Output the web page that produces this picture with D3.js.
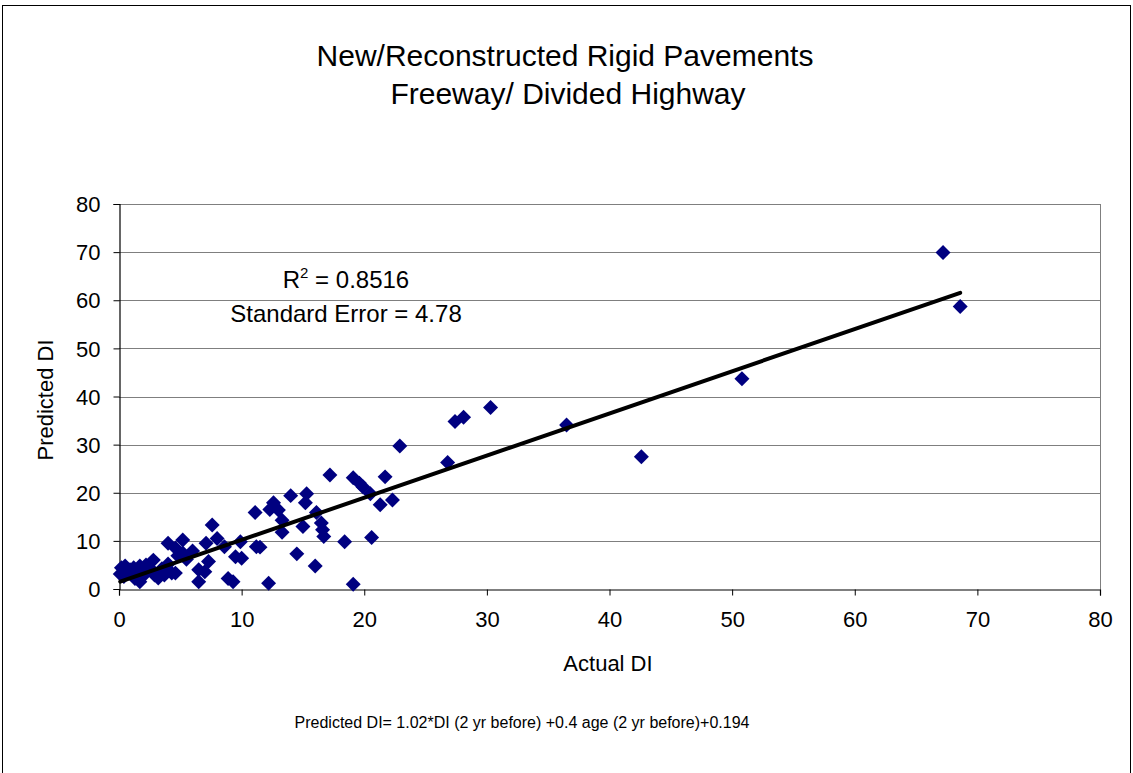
<!DOCTYPE html>
<html><head><meta charset="utf-8">
<script src="https://cdn.jsdelivr.net/npm/d3@7"></script>
<style>
html,body{margin:0;padding:0;background:#fff;}
text{font-family:"Liberation Sans",Arial,sans-serif;fill:#000;}
</style></head>
<body>
<svg id="chart" width="1133" height="773"></svg>
<script>
const actualDI = [0.1,0.2,0.4,0.5,0.7,0.9,1.0,1.2,1.3,1.5,1.7,1.7,2.0,2.0,2.2,2.5,2.8,2.9,3.2,3.5,3.7,4.0,4.0,4.3,4.6,4.6,4.8,5.2,5.2,5.5,6.0,6.5,6.5,7.0,7.1,7.3,7.6,8.0,8.6,8.9,9.3,9.5,9.9,10.0,11.1,11.2,11.5,12.2,12.3,12.6,13.0,13.3,13.3,14.0,14.5,15.0,15.2,15.3,16.0,16.1,16.5,16.6,16.7,17.2,18.4,19.1,19.1,19.6,19.9,20.5,20.6,21.3,21.7,22.3,22.9,26.8,27.4,28.1,30.3,36.5,42.6,50.8,67.2,68.6];
const predictedDI = [3.1,4.4,2.6,4.8,3.5,4.0,3.1,4.4,2.2,3.7,4.8,1.5,4.0,2.8,5.0,4.4,6.0,2.9,2.3,4.2,2.9,5.2,9.5,3.3,8.5,3.3,6.9,10.2,7.5,6.2,7.9,1.5,4.0,3.6,9.5,5.7,13.3,10.5,8.8,2.2,1.5,6.7,9.8,6.4,15.9,8.8,8.7,1.2,16.5,17.9,16.4,11.8,14.3,19.4,7.3,13.0,17.9,19.8,4.8,15.9,13.7,12.3,10.9,23.7,9.8,23.1,1.0,22.0,21.2,19.8,10.7,17.5,23.3,18.5,29.7,26.3,34.8,35.7,37.7,34.1,27.5,43.7,69.9,58.7];
const xTicks = [0,10,20,30,40,50,60,70,80];
const yTicks = [0,10,20,30,40,50,60,70,80];
const trendSlope = 0.876, trendIntercept = 1.45;
const titleLines = ["New/Reconstructed Rigid Pavements","Freeway/ Divided Highway"];
const xTitle = "Actual DI", yTitle = "Predicted DI";
const footer = "Predicted DI= 1.02*DI (2 yr before) +0.4 age (2 yr before)+0.194";
const statsLines = ["= 0.8516","Standard Error = 4.78"];

const svg = d3.select("#chart");
const L = 119, R = 1100, T = 204, B = 589;
const x = d3.scaleLinear().domain([0,80]).range([L,R]);
const y = d3.scaleLinear().domain([0,80]).range([B,T]);

// outer chart border
svg.append("rect").attr("x",2.5).attr("y",5.5).attr("width",1128).attr("height",800)
  .attr("fill","none").attr("stroke","#000").attr("stroke-width",1);

// gridlines
svg.append("g").selectAll("line").data(yTicks.filter(d=>d>0)).join("line")
  .attr("x1",L).attr("x2",R).attr("y1",d=>Math.round(y(d))+0.5).attr("y2",d=>Math.round(y(d))+0.5)
  .attr("stroke","#7f7f7f").attr("stroke-width",1);
// plot area right border
svg.append("line").attr("x1",R+0.5).attr("x2",R+0.5).attr("y1",T).attr("y2",B)
  .attr("stroke","#7f7f7f");

// axes
const xAxis = d3.axisBottom(x).tickValues(xTicks).tickSize(6).tickPadding(16).tickFormat(d3.format("d"));
const yAxis = d3.axisLeft(y).tickValues(yTicks).tickSize(6).tickPadding(13).tickFormat(d3.format("d"));
const gx = svg.append("g").attr("transform",`translate(0,${B+0.5})`).call(xAxis);
const gy = svg.append("g").attr("transform",`translate(${L+0.5},0)`).call(yAxis);
[gx,gy].forEach(g=>{
  g.select(".domain").attr("stroke","#000").attr("stroke-width",1.2);
  g.selectAll(".tick line").attr("stroke","#000");
  g.selectAll(".tick text").attr("font-size",22).attr("font-family","Liberation Sans, Arial, sans-serif").attr("fill","#000");
});
gy.selectAll(".tick text").attr("dy","0.35em");

// points
const sym = d3.symbol().type(d3.symbolSquare).size(112);
svg.append("g").selectAll("path").data(actualDI.map((v,i)=>[v,predictedDI[i]])).join("path")
  .attr("d",sym)
  .attr("transform",d=>`translate(${x(d[0])},${y(d[1])}) rotate(45)`)
  .attr("fill","#000080");

// trendline
const xMin = d3.min(actualDI), xMax = d3.max(actualDI);
svg.append("line")
  .attr("x1",x(xMin)).attr("y1",y(trendSlope*xMin+trendIntercept))
  .attr("x2",x(xMax)).attr("y2",y(trendSlope*xMax+trendIntercept))
  .attr("stroke","#000").attr("stroke-width",4).attr("stroke-linecap","round");

// title
svg.append("text").attr("x",565).attr("y",66).attr("text-anchor","middle").attr("font-size",30).text(titleLines[0]);
svg.append("text").attr("x",568).attr("y",104).attr("text-anchor","middle").attr("font-size",30).text(titleLines[1]);

// stats
const st = svg.append("text").attr("x",346).attr("y",288).attr("text-anchor","middle").attr("font-size",24);
st.append("tspan").text("R");
st.append("tspan").attr("font-size",15).attr("dy",-10).text("2");
st.append("tspan").attr("dy",10).text(" " + statsLines[0]);
svg.append("text").attr("x",346).attr("y",322).attr("text-anchor","middle").attr("font-size",24).text(statsLines[1]);

// axis titles
svg.append("text").attr("x",608).attr("y",671).attr("text-anchor","middle").attr("font-size",22).text(xTitle);
svg.append("text").attr("transform","translate(53,400) rotate(-90)").attr("text-anchor","middle").attr("font-size",22).text(yTitle);

// footer
svg.append("text").attr("x",522).attr("y",728).attr("text-anchor","middle").attr("font-size",16).text(footer);
</script>
</body></html>
